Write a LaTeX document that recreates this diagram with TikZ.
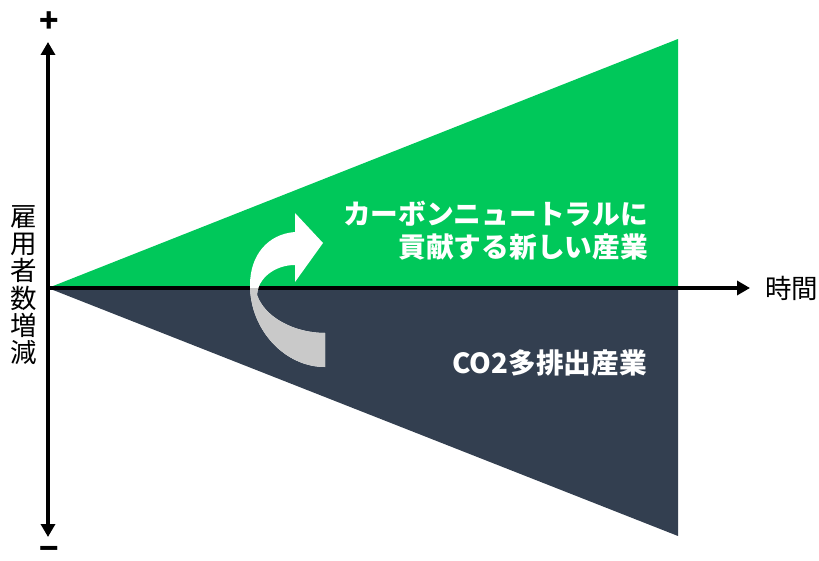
\documentclass[tikz,border=0pt]{standalone}
\usepackage{fontspec}
\setmainfont{Noto Sans CJK JP}
\usetikzlibrary{arrows.meta}
\definecolor{grn}{HTML}{00C85A}
\definecolor{navy}{HTML}{333F50}
\definecolor{ribbongray}{HTML}{C9C9C9}
\begin{document}
\begin{tikzpicture}[x=1pt,y=-1pt,
  axisline/.style={line width=3.5pt},
  tipa/.tip={Triangle[width=14pt,length=13pt]},
  lbl/.style={text=white, font=\bfseries\fontsize{27.7}{33}\selectfont, inner sep=0pt, align=right},
  axlbl/.style={font=\fontsize{26.5}{27.3}\selectfont, inner sep=0pt, align=center},
  signlbl/.style={font=\bfseries\fontsize{32}{32}\selectfont, inner sep=0pt}]
\useasboundingbox (0,0) rectangle (819,561);
% triangles
\coordinate (O) at (48,288);
\coordinate (GT) at (678,39);
\coordinate (R) at (678,288);
\coordinate (NB) at (678,536);
\fill[grn] (O) -- (GT) -- (R) -- cycle;
\fill[navy] (O) -- (R) -- (NB) -- cycle;
% axes
\coordinate (xend) at (750,288);
\coordinate (ytop) at (48,42);
\coordinate (ybot) at (48,537);
\draw[axisline,-tipa] (O) -- (xend);
\draw[axisline,tipa-tipa] (ybot) -- (ytop);
% axis labels
\node[axlbl, anchor=west] (time) at (765,288) {時間};
\node[axlbl] (ylab) at (24,285) {雇\\用\\者\\数\\増\\減};
\node[signlbl] (plus) at (49,22) {+};
\node[signlbl, anchor=south, text depth=0pt, text height=12pt] (minus) at (49,561) {−};
% region labels
\node[lbl, anchor=east] (greenlbl) at (648,231) {カーボンニュートラルに\\貢献する新しい産業};
\node[lbl, anchor=east] (navylbl) at (647,363) {CO2多排出産業};
% curved ribbon arrow
\def\ribbonpath{(325,367) -- (325,333) .. controls (295,333) and (265,318) .. (257,295)
  .. controls (258,278) and (275,265) .. (295,265) -- (295,282) -- (323,243) -- (295,213) -- (295,232)
  .. controls (268,234) and (250,255) .. (250,285) .. controls (250,330) and (285,367) .. (325,367) -- cycle}
\fill[white] \ribbonpath;
\begin{scope}
  \clip (0,289) rectangle (819,561);
  \fill[ribbongray] \ribbonpath;
\end{scope}
\end{tikzpicture}
\end{document}
